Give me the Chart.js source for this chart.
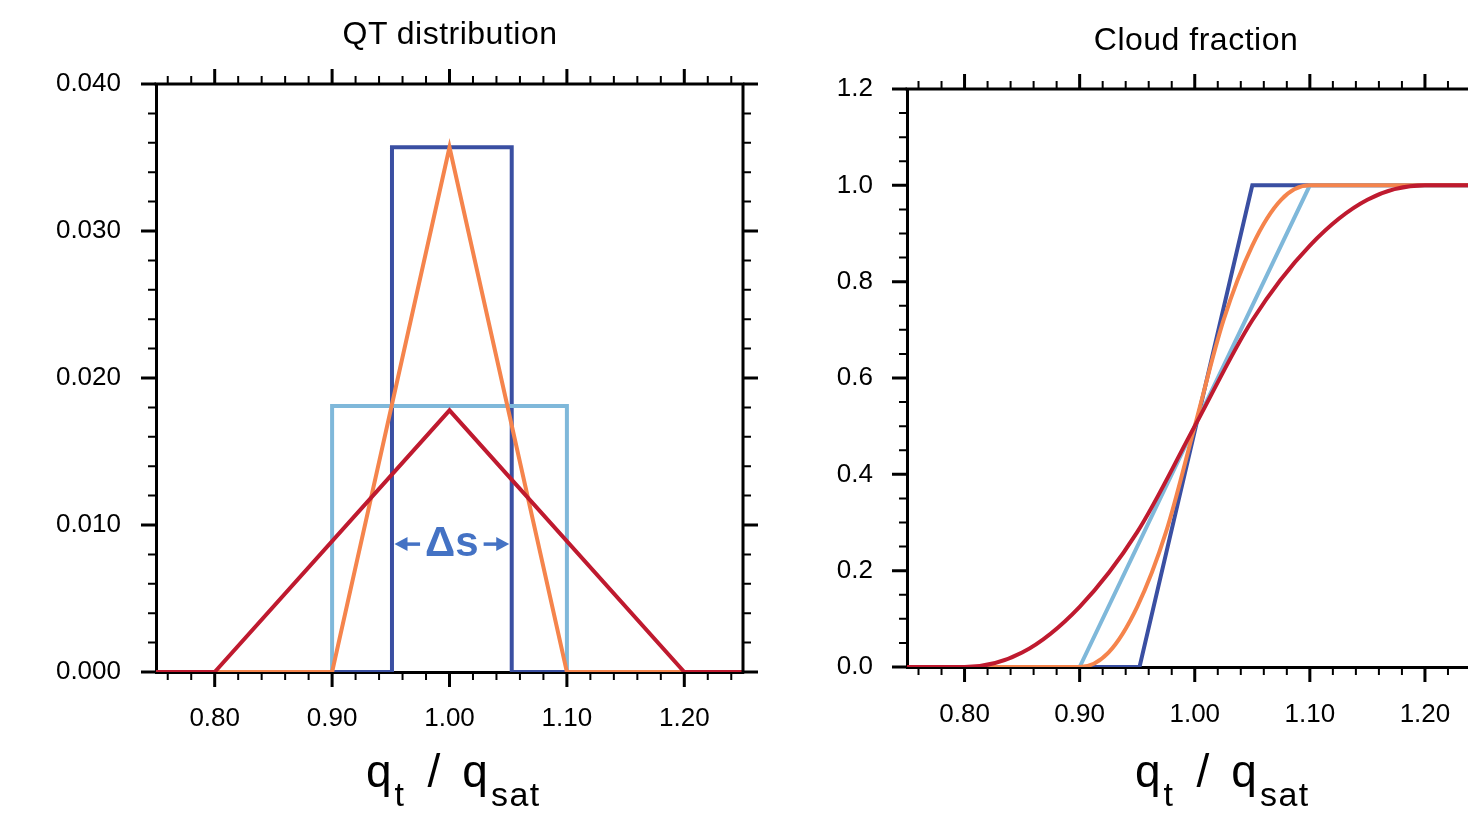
<!DOCTYPE html>
<html>
<head>
<meta charset="utf-8">
<script src="https://cdn.jsdelivr.net/npm/chart.js@4.4.1/dist/chart.umd.min.js"></script>
<style>
  html, body { margin: 0; padding: 0; background: #fff; overflow: hidden; width: 1468px; height: 815px; }
  canvas { position: absolute; top: 0; }
  #pdf { left: 0; }
  #cf { left: 790px; }
  .title { position: absolute; font: 32px/32px 'Liberation Sans', Arial, sans-serif; letter-spacing: 0.5px;
           color: #000; white-space: nowrap; transform: translateX(-50%); }
  .xlab { position: absolute; top: 746px; font: 46px/50px 'Liberation Sans', Arial, sans-serif; color: #000; white-space: nowrap; }
  .xlab sub { font-size: 34px; vertical-align: -19px; line-height: 0; margin-left: 3px; letter-spacing: 1.5px; }
  .xlab .sl { margin: 0 22px 0 22px; }
</style>
</head>
<body>
<canvas id="pdf" width="790" height="815"></canvas>
<canvas id="cf" width="720" height="815"></canvas>
<div class="title" style="left:450px; top:17px">QT distribution</div>
<div class="title" style="left:1196px; top:23px">Cloud fraction</div>
<div class="xlab" style="left:366px">q<sub>t</sub><span class="sl">/</span>q<sub>sat</sub></div>
<div class="xlab" style="left:1135px">q<sub>t</sub><span class="sl">/</span>q<sub>sat</sub></div>
<script>
  'use strict';

  const xMin = 0.75, xMax = 1.25;
  const xTicks = [0.80, 0.90, 1.00, 1.10, 1.20];
  const pdfYTicks = [0, 0.010, 0.020, 0.030, 0.040];
  const cfYTicks = [0, 0.2, 0.4, 0.6, 0.8, 1.0, 1.2];

  const colors = { narrowBox: '#3a4fa2', wideBox: '#7fb8da', narrowTri: '#f5844c', wideTri: '#bf1a2f' };

  // QT distribution (pdf)
  const pdfNarrowBoxX = [0.75, 0.951, 0.951, 1.053, 1.053, 1.25];
  const pdfNarrowBoxY = [0, 0, 0.0357, 0.0357, 0, 0];
  const pdfWideBoxX = [0.75, 0.900, 0.900, 1.100, 1.100, 1.25];
  const pdfWideBoxY = [0, 0, 0.0181, 0.0181, 0, 0];
  const pdfNarrowTriX = [0.75, 0.90, 1.00, 1.10, 1.25];
  const pdfNarrowTriY = [0, 0, 0.0357, 0, 0];
  const pdfWideTriX = [0.75, 0.80, 1.00, 1.20, 1.25];
  const pdfWideTriY = [0, 0, 0.0178, 0, 0];

  // Cloud fraction (cdf)
  const cfNarrowBoxX = [0.75, 0.952, 1.050, 1.25];
  const cfNarrowBoxY = [0, 0, 1, 1];
  const cfWideBoxX = [0.75, 0.900, 1.100, 1.25];
  const cfWideBoxY = [0, 0, 1, 1];
  const cfNarrowTriX = [0.75, 0.90, 0.925, 0.95, 0.975, 1.00, 1.025, 1.05, 1.075, 1.10, 1.25];
  const cfNarrowTriY = [0, 0, 0.03, 0.125, 0.28, 0.50, 0.72, 0.875, 0.97, 1, 1];
  const cfWideTriX = [0.75, 0.80, 0.85, 0.90, 0.95, 1.00, 1.05, 1.10, 1.15, 1.20, 1.25];
  const cfWideTriY = [0, 0, 0.03, 0.125, 0.28, 0.50, 0.72, 0.875, 0.97, 1, 1];

  const deltaLabelY = 0.0087;

  const tickFont = { family: "'Liberation Sans', Arial, sans-serif", size: 26 };

  function series(xs, ys, color, smooth) {
    return {
      data: xs.map((x, i) => ({ x, y: ys[i] })),
      borderColor: color,
      borderWidth: 4,
      pointRadius: 0,
      fill: false,
      tension: 0,
      cubicInterpolationMode: smooth ? 'monotone' : 'default',
    };
  }

  function scales(yTicks, yDigits, yWidth, xHeight, xPad, yPad) {
    const border = { display: true, color: '#000', width: 3 };
    return {
      x: {
        type: 'linear', min: xMin, max: xMax,
        afterBuildTicks: s => { s.ticks = xTicks.map(v => ({ value: v })); },
        afterFit: s => { s.height = xHeight; },
        grid: { display: false, drawTicks: false },
        border,
        ticks: { font: tickFont, color: '#000', padding: xPad, maxRotation: 0, autoSkip: false,
                 callback: v => Number(v).toFixed(2) },
      },
      y: {
        type: 'linear', min: yTicks[0], max: yTicks[yTicks.length - 1],
        afterBuildTicks: s => { s.ticks = yTicks.map(v => ({ value: v })); },
        afterFit: s => { s.width = yWidth; },
        grid: { display: false, drawTicks: false },
        border,
        ticks: { font: tickFont, color: '#000', padding: yPad, autoSkip: false,
                 callback: v => Number(v).toFixed(yDigits) },
      },
    };
  }

  // NCL-like frame: top/right border, outward major + minor ticks on all four sides
  const frameTicks = {
    id: 'frameTicks',
    afterDraw(chart, args, o) {
      const { ctx, chartArea: a, scales: { x, y } } = chart;
      const isMajor = (v, step) => Math.abs(v / step - Math.round(v / step)) < 1e-6;
      ctx.save();
      ctx.strokeStyle = '#000';
      ctx.lineWidth = 3;
      ctx.beginPath();
      ctx.moveTo(a.left - 1.5, a.top);
      ctx.lineTo(a.right, a.top);
      ctx.lineTo(a.right, a.bottom + 1.5);
      ctx.stroke();
      for (let k = Math.ceil(x.min / o.xMinor - 1e-6); k * o.xMinor <= x.max + 1e-9; k++) {
        const v = k * o.xMinor, major = isMajor(v, o.xMajor);
        const len = major ? 15 : 8, px = x.getPixelForValue(v);
        ctx.lineWidth = major ? 3 : 2;
        ctx.beginPath();
        ctx.moveTo(px, a.bottom); ctx.lineTo(px, a.bottom + len);
        ctx.moveTo(px, a.top); ctx.lineTo(px, a.top - len);
        ctx.stroke();
      }
      for (let k = Math.ceil(y.min / o.yMinor - 1e-6); k * o.yMinor <= y.max + 1e-9; k++) {
        const v = k * o.yMinor, major = isMajor(v, o.yMajor);
        const len = major ? 15 : 8, py = y.getPixelForValue(v);
        ctx.lineWidth = major ? 3 : 2;
        ctx.beginPath();
        ctx.moveTo(a.left, py); ctx.lineTo(a.left - len, py);
        ctx.moveTo(a.right, py); ctx.lineTo(a.right + len, py);
        ctx.stroke();
      }
      ctx.restore();
    },
  };

  // "Δs" width marker between the edges of the narrow box pdf
  const deltaMarker = {
    id: 'deltaMarker',
    afterDatasetsDraw(chart) {
      const { ctx, scales: { x, y } } = chart;
      const xl = x.getPixelForValue(pdfNarrowBoxX[1]) + 2.5;
      const xr = x.getPixelForValue(pdfNarrowBoxX[3]) - 2.5;
      const py = y.getPixelForValue(deltaLabelY);
      const mid = (xl + xr) / 2;
      const blue = '#4472c4';
      ctx.save();
      ctx.fillStyle = blue;
      ctx.strokeStyle = blue;
      ctx.font = "bold 42px 'Liberation Sans', Arial, sans-serif";
      ctx.textAlign = 'center';
      ctx.textBaseline = 'middle';
      ctx.fillText('Δs', mid, py);
      const half = ctx.measureText('Δs').width / 2 + 5;
      const arrow = (tip, tail) => {
        const dir = Math.sign(tail - tip);
        ctx.lineWidth = 3.5;
        ctx.beginPath();
        ctx.moveTo(tip + dir * 8, py); ctx.lineTo(tail, py);
        ctx.stroke();
        ctx.beginPath();
        ctx.moveTo(tip, py);
        ctx.lineTo(tip + dir * 13, py - 7);
        ctx.lineTo(tip + dir * 13, py + 7);
        ctx.closePath();
        ctx.fill();
      };
      arrow(xl, mid - half);
      arrow(xr, mid + half);
      ctx.restore();
    },
  };

  const common = {
    responsive: false,
    animation: false,
    events: [],
  };

  new Chart(document.getElementById('pdf'), {
    type: 'line',
    data: {
      datasets: [
        series(pdfWideTriX, pdfWideTriY, colors.wideTri),
        series(pdfNarrowTriX, pdfNarrowTriY, colors.narrowTri),
        series(pdfWideBoxX, pdfWideBoxY, colors.wideBox),
        series(pdfNarrowBoxX, pdfNarrowBoxY, colors.narrowBox),
      ],
    },
    options: {
      ...common,
      layout: { padding: { top: 84, right: 47, bottom: 0, left: 0 } },
      scales: scales(pdfYTicks, 3, 156, 143, 31, 35),
      plugins: {
        legend: { display: false },
        tooltip: { enabled: false },
        frameTicks: { xMinor: 0.02, xMajor: 0.1, yMinor: 0.002, yMajor: 0.01 },
      },
    },
    plugins: [frameTicks, deltaMarker],
  });

  new Chart(document.getElementById('cf'), {
    type: 'line',
    data: {
      datasets: [
        series(cfWideTriX, cfWideTriY, colors.wideTri, true),
        series(cfNarrowTriX, cfNarrowTriY, colors.narrowTri, true),
        series(cfWideBoxX, cfWideBoxY, colors.wideBox),
        series(cfNarrowBoxX, cfNarrowBoxY, colors.narrowBox),
      ],
    },
    options: {
      ...common,
      layout: { padding: { top: 89, right: 27.5, bottom: 0, left: 0 } },
      scales: scales(cfYTicks, 1, 117, 148, 32, 34),
      plugins: {
        legend: { display: false },
        tooltip: { enabled: false },
        frameTicks: { xMinor: 0.02, xMajor: 0.1, yMinor: 0.05, yMajor: 0.2 },
      },
    },
    plugins: [frameTicks],
  });
</script>
</body>
</html>
